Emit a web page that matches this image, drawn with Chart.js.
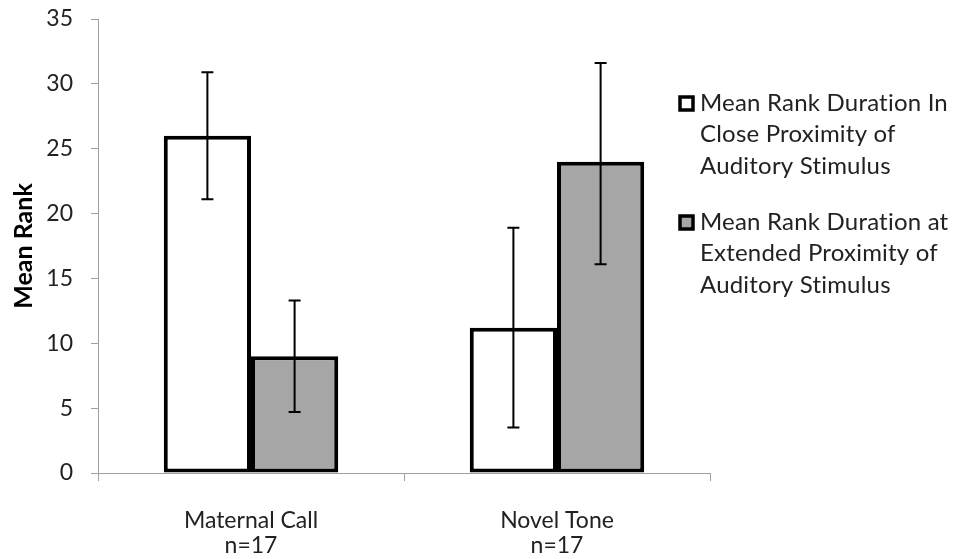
<!DOCTYPE html>
<html>
<head>
<meta charset="utf-8">
<script src="https://cdn.jsdelivr.net/npm/chart.js@4.4.0/dist/chart.umd.min.js"></script>
<style>
  html, body { margin: 0; padding: 0; background: #fff; }
  #wrap { width: 957px; height: 559px; position: relative; }
</style>
</head>
<body>
<div id="wrap"><canvas id="myChart"></canvas></div>
<script>
let categories = [["Maternal Call", "n=17"], ["Novel Tone", "n=17"]];
let seriesNames = [
    ["Mean Rank Duration In", "Close Proximity of", "Auditory Stimulus"],
    ["Mean Rank Duration at", "Extended Proximity of", "Auditory Stimulus"]
];
let closeValues = [26.0, 11.2];
let extendedValues = [9.0, 24.0];
let closeErrHigh = [30.9, 18.9];
let closeErrLow = [21.1, 3.5];
let extendedErrHigh = [13.3, 31.6];
let extendedErrLow = [4.7, 16.1];
let yTicks = [0, 5, 10, 15, 20, 25, 30, 35];

const FONT = "Lato, 'Open Sans', sans-serif";

// error bars drawn on top of the bars, using the y scale
const errorBars = {
    id: 'errorBars',
    afterDatasetsDraw(chart) {
        const ctx = chart.ctx;
        const y = chart.scales.y;
        chart.data.datasets.forEach((ds, di) => {
            const meta = chart.getDatasetMeta(di);
            meta.data.forEach((bar, i) => {
                const top = y.getPixelForValue(ds.errHigh[i]);
                const bot = y.getPixelForValue(ds.errLow[i]);
                ctx.save();
                ctx.strokeStyle = '#000';
                ctx.lineWidth = 2;
                ctx.beginPath();
                ctx.moveTo(bar.x, top); ctx.lineTo(bar.x, bot);
                ctx.moveTo(bar.x - 6, top); ctx.lineTo(bar.x + 6, top);
                ctx.moveTo(bar.x - 6, bot); ctx.lineTo(bar.x + 6, bot);
                ctx.stroke();
                ctx.restore();
            });
        });
    }
};

// legend on the right, with wrapped lines
const sideLegend = {
    id: 'sideLegend',
    afterDraw(chart) {
        const ctx = chart.ctx;
        const startY = [103, 222];
        ctx.save();
        ctx.font = "24px " + FONT;
        ctx.letterSpacing = '0.2px';
        ctx.textBaseline = 'middle';
        chart.data.datasets.forEach((ds, di) => {
            let y0 = startY[di];
            ctx.fillStyle = ds.backgroundColor;
            ctx.strokeStyle = '#000';
            ctx.lineWidth = 3.5;
            ctx.fillRect(680, y0 - 6, 13, 13);
            ctx.strokeRect(680, y0 - 6, 13, 13);
            ctx.fillStyle = '#222';
            ds.lines.forEach((t, li) => {
                ctx.fillText(t, 700, y0 + li * 31.5);
            });
        });
        ctx.restore();
    }
};

document.addEventListener('DOMContentLoaded', e => {
    let ctx = document.getElementById('myChart').getContext('2d');
    new Chart(ctx, {
        type: 'bar',
        data: {
            labels: categories,
            datasets: [{
                label: seriesNames[0].join(' '),
                lines: seriesNames[0],
                data: closeValues,
                errHigh: closeErrHigh,
                errLow: closeErrLow,
                backgroundColor: '#ffffff',
                borderColor: '#000000',
                borderWidth: 4,
                borderSkipped: false
            }, {
                label: seriesNames[1].join(' '),
                lines: seriesNames[1],
                data: extendedValues,
                errHigh: extendedErrHigh,
                errLow: extendedErrLow,
                backgroundColor: '#a6a6a6',
                borderColor: '#000000',
                borderWidth: 4,
                borderSkipped: false
            }]
        },
        options: {
            responsive: true,
            maintainAspectRatio: false,
            animation: false,
            layout: { padding: { top: 19, right: 247, left: 0, bottom: 0 } },
            datasets: { bar: { categoryPercentage: 0.57, barPercentage: 1.0 } },
            plugins: {
                legend: { display: false },
                tooltip: { enabled: false }
            },
            scales: {
                x: {
                    afterFit: s => { s.height = 86; },
                    border: { color: '#a0a0a0', width: 1 },
                    grid: { display: true, drawOnChartArea: false, offset: true, tickLength: 8, color: '#a0a0a0' },
                    ticks: { color: '#222', padding: 28, font: { family: FONT, size: 23, lineHeight: 1.05 } }
                },
                y: {
                    min: 0, max: 35,
                    afterBuildTicks: s => { s.ticks = yTicks.map(v => ({ value: v })); },
                    afterFit: s => { s.width = 98; s.paddingTop = 0; s.paddingBottom = 0; },
                    border: { color: '#a0a0a0', width: 1 },
                    grid: { display: true, drawOnChartArea: false, tickLength: 7, color: '#a0a0a0' },
                    ticks: { color: '#222', padding: 18, font: { family: FONT, size: 23 } },
                    title: { display: true, text: 'Mean Rank', color: '#000', padding: { top: 9, bottom: 0 },
                             font: { family: FONT, size: 25, weight: 'bold' } }
                }
            }
        },
        plugins: [errorBars, sideLegend]
    });
});
</script>
</body>
</html>
